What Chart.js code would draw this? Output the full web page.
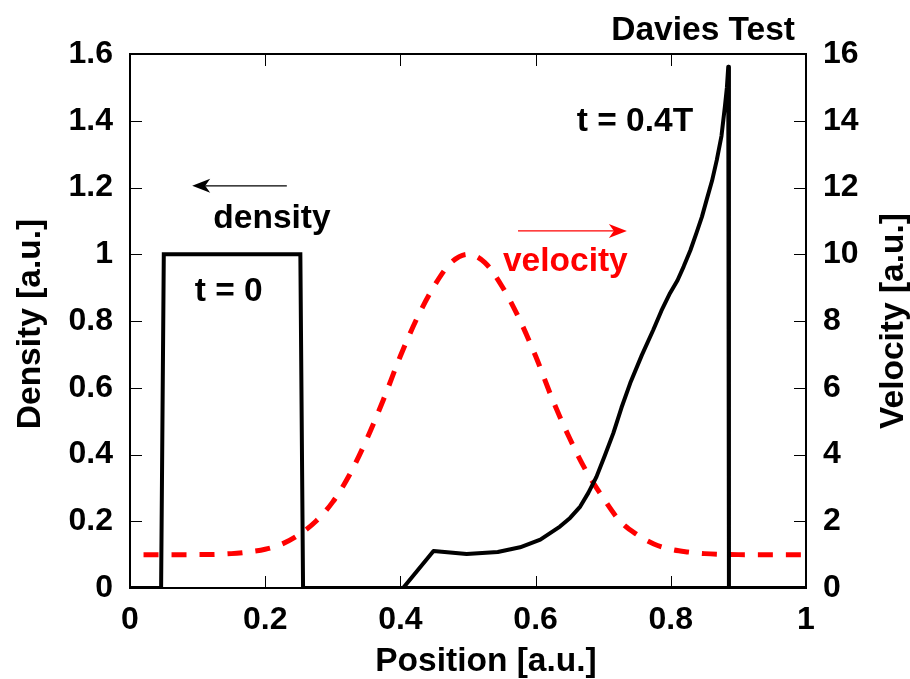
<!DOCTYPE html>
<html>
<head>
<meta charset="utf-8">
<title>Davies Test</title>
<script src="https://cdn.jsdelivr.net/npm/chart.js@4.4.1/dist/chart.umd.min.js"></script>
<style>
  html, body { margin: 0; padding: 0; background: #fff; }
  #wrap { width: 910px; height: 679px; }
</style>
</head>
<body>
<div id="wrap"><canvas id="davies-chart" width="910" height="679"></canvas></div>
<script>
// density at t = 0 (square pulse)
const posT0 = [0, 0.046, 0.05, 0.252, 0.256, 1];
const densT0 = [0, 0, 1, 1, 0, 0];

// density at t = 0.4T
const posT04 = [0.404, 0.449, 0.498, 0.544, 0.577, 0.607, 0.636, 0.651, 0.666, 0.678, 0.69, 0.702, 0.715, 0.727, 0.74, 0.757, 0.774, 0.786, 0.799, 0.81, 0.819, 0.829, 0.838, 0.846, 0.853, 0.861, 0.868, 0.875, 0.88, 0.883, 0.885, 0.886, 1];
const densT04 = [0, 0.111, 0.102, 0.108, 0.122, 0.145, 0.184, 0.21, 0.244, 0.285, 0.333, 0.395, 0.464, 0.54, 0.614, 0.697, 0.773, 0.83, 0.884, 0.922, 0.963, 1.012, 1.064, 1.112, 1.163, 1.22, 1.282, 1.355, 1.442, 1.5, 1.562, 0, 0];

// velocity profile (right axis)
const posVel = [0.02, 0.1, 0.15, 0.175, 0.2, 0.225, 0.25, 0.275, 0.3, 0.325, 0.35, 0.375, 0.4, 0.425, 0.45, 0.475, 0.5, 0.525, 0.55, 0.575, 0.6, 0.625, 0.65, 0.675, 0.7, 0.725, 0.75, 0.775, 0.8, 0.825, 0.85, 0.9, 1];
const velocity = [1, 1, 1.03, 1.08, 1.16, 1.32, 1.6, 2.0, 2.58, 3.4, 4.45, 5.65, 6.95, 8.1, 9.05, 9.75, 10, 9.75, 9.05, 8.1, 6.95, 5.65, 4.5, 3.5, 2.7, 2.0, 1.6, 1.32, 1.16, 1.08, 1.03, 1, 1];

const xTicks = [0, 0.2, 0.4, 0.6, 0.8, 1];
const densityTicks = [0, 0.2, 0.4, 0.6, 0.8, 1, 1.2, 1.4, 1.6];
const velocityTicks = [0, 2, 4, 6, 8, 10, 12, 14, 16];

const FONT = '"Liberation Sans", Arial, Helvetica, sans-serif';
const tickFont = { family: FONT, size: 32, weight: 'bold' };

function toPoints(xs, ys) {
  return xs.map((x, i) => ({ x: x, y: ys[i] }));
}

function drawArrow(ctx, x1, y1, x2, y2, color) {
  const ang = Math.atan2(y2 - y1, x2 - x1);
  const len = 18, half = 7, notch = 13;
  ctx.strokeStyle = color;
  ctx.fillStyle = color;
  ctx.lineWidth = 1.3;
  ctx.beginPath();
  ctx.moveTo(x1, y1);
  ctx.lineTo(x2 - Math.cos(ang) * notch, y2 - Math.sin(ang) * notch);
  ctx.stroke();
  ctx.beginPath();
  ctx.moveTo(x2, y2);
  ctx.lineTo(x2 - Math.cos(ang) * len - Math.sin(ang) * half, y2 - Math.sin(ang) * len + Math.cos(ang) * half);
  ctx.lineTo(x2 - Math.cos(ang) * notch, y2 - Math.sin(ang) * notch);
  ctx.lineTo(x2 - Math.cos(ang) * len + Math.sin(ang) * half, y2 - Math.sin(ang) * len - Math.cos(ang) * half);
  ctx.closePath();
  ctx.fill();
}

function drawRotated(ctx, text, cx, cy) {
  ctx.save();
  ctx.translate(cx, cy);
  ctx.rotate(-Math.PI / 2);
  ctx.textAlign = 'center';
  ctx.textBaseline = 'middle';
  ctx.fillText(text, 0, 0);
  ctx.restore();
}

const decorPlugin = {
  id: 'decor',
  afterDraw(chart) {
    const { ctx, chartArea: a, scales } = chart;
    const x = scales.x, y = scales.y, y1 = scales.y1;
    ctx.save();

    // inward tick marks
    ctx.strokeStyle = '#000';
    ctx.lineWidth = 1;
    ctx.beginPath();
    xTicks.forEach(v => {
      const px = Math.round(x.getPixelForValue(v)) + 0.5;
      ctx.moveTo(px, a.bottom); ctx.lineTo(px, a.bottom - 12);
      ctx.moveTo(px, a.top); ctx.lineTo(px, a.top + 12);
    });
    densityTicks.forEach(v => {
      const py = Math.round(y.getPixelForValue(v)) + 0.5;
      ctx.moveTo(a.left, py); ctx.lineTo(a.left + 12, py);
    });
    velocityTicks.forEach(v => {
      const py = Math.round(y1.getPixelForValue(v)) + 0.5;
      ctx.moveTo(a.right, py); ctx.lineTo(a.right - 12, py);
    });
    ctx.stroke();

    // frame
    ctx.lineWidth = 2;
    ctx.strokeRect(a.left, a.top, a.right - a.left, a.bottom - a.top);

    // texts
    ctx.font = 'bold 33.5px ' + FONT;
    ctx.fillStyle = '#000';
    ctx.textBaseline = 'alphabetic';
    ctx.textAlign = 'right';
    ctx.fillText('Davies Test', 795, 40);

    ctx.textAlign = 'center';
    ctx.fillText('t = 0', x.getPixelForValue(0.146), y.getPixelForValue(0.86));
    ctx.fillText('t = 0.4T', x.getPixelForValue(0.747), y.getPixelForValue(1.37));
    ctx.fillText('density', x.getPixelForValue(0.21), y.getPixelForValue(1.08));
    ctx.fillStyle = '#ff0000';
    ctx.fillText('velocity', x.getPixelForValue(0.644), y1.getPixelForValue(9.5));

    // axis titles
    ctx.fillStyle = '#000';
    ctx.textBaseline = 'middle';
    ctx.fillText('Position [a.u.]', 486, 662);
    drawRotated(ctx, 'Density [a.u.]', 31, 324);
    drawRotated(ctx, 'Velocity [a.u.]', 894, 321);

    // arrows
    drawArrow(ctx, x.getPixelForValue(0.232), y.getPixelForValue(1.205), x.getPixelForValue(0.092), y.getPixelForValue(1.205), '#000');
    drawArrow(ctx, x.getPixelForValue(0.574), y.getPixelForValue(1.07), x.getPixelForValue(0.735), y.getPixelForValue(1.07), '#ff0000');

    ctx.restore();
  }
};

let daviesChart = null;

function renderDaviesChart() {
  const ctx = document.getElementById('davies-chart').getContext('2d');
  if (daviesChart) daviesChart.destroy();
  daviesChart = new Chart(ctx, {
    type: 'line',
    data: {
      datasets: [
        { label: 'density t=0', data: toPoints(posT0, densT0), yAxisID: 'y', borderColor: '#000', borderWidth: 4, pointRadius: 0, tension: 0, borderJoinStyle: 'miter' },
        { label: 'density t=0.4T', data: toPoints(posT04, densT04), yAxisID: 'y', borderColor: '#000', borderWidth: 4, pointRadius: 0, tension: 0, borderJoinStyle: 'round' },
        { label: 'velocity', data: toPoints(posVel, velocity), yAxisID: 'y1', borderColor: '#ff0000', borderWidth: 5, borderDash: [15, 13], pointRadius: 0, tension: 0.4, cubicInterpolationMode: 'monotone' }
      ]
    },
    options: {
      responsive: false,
      animation: false,
      layout: { padding: { top: 54, left: 0, right: 0, bottom: 0 } },
      plugins: { legend: { display: false }, tooltip: { enabled: false } },
      scales: {
        x: {
          type: 'linear', min: 0, max: 1,
          afterBuildTicks: axis => { axis.ticks = xTicks.map(v => ({ value: v })); },
          afterFit: axis => { axis.height = 91; },
          grid: { display: false, drawTicks: false },
          border: { display: false },
          ticks: { font: tickFont, color: '#000', padding: 13, maxRotation: 0, callback: v => String(v) }
        },
        y: {
          type: 'linear', position: 'left', min: 0, max: 1.6,
          afterBuildTicks: axis => { axis.ticks = densityTicks.map(v => ({ value: v })); },
          afterFit: axis => { axis.width = 130; },
          grid: { display: false, drawTicks: false },
          border: { display: false },
          ticks: { font: tickFont, color: '#000', padding: 17, callback: v => String(v) }
        },
        y1: {
          type: 'linear', position: 'right', min: 0, max: 16,
          afterBuildTicks: axis => { axis.ticks = velocityTicks.map(v => ({ value: v })); },
          afterFit: axis => { axis.width = 104; },
          grid: { display: false, drawTicks: false },
          border: { display: false },
          ticks: { font: tickFont, color: '#000', padding: 17, callback: v => String(v) }
        }
      }
    },
    plugins: [decorPlugin]
  });
}

renderDaviesChart();
</script>
</body>
</html>
